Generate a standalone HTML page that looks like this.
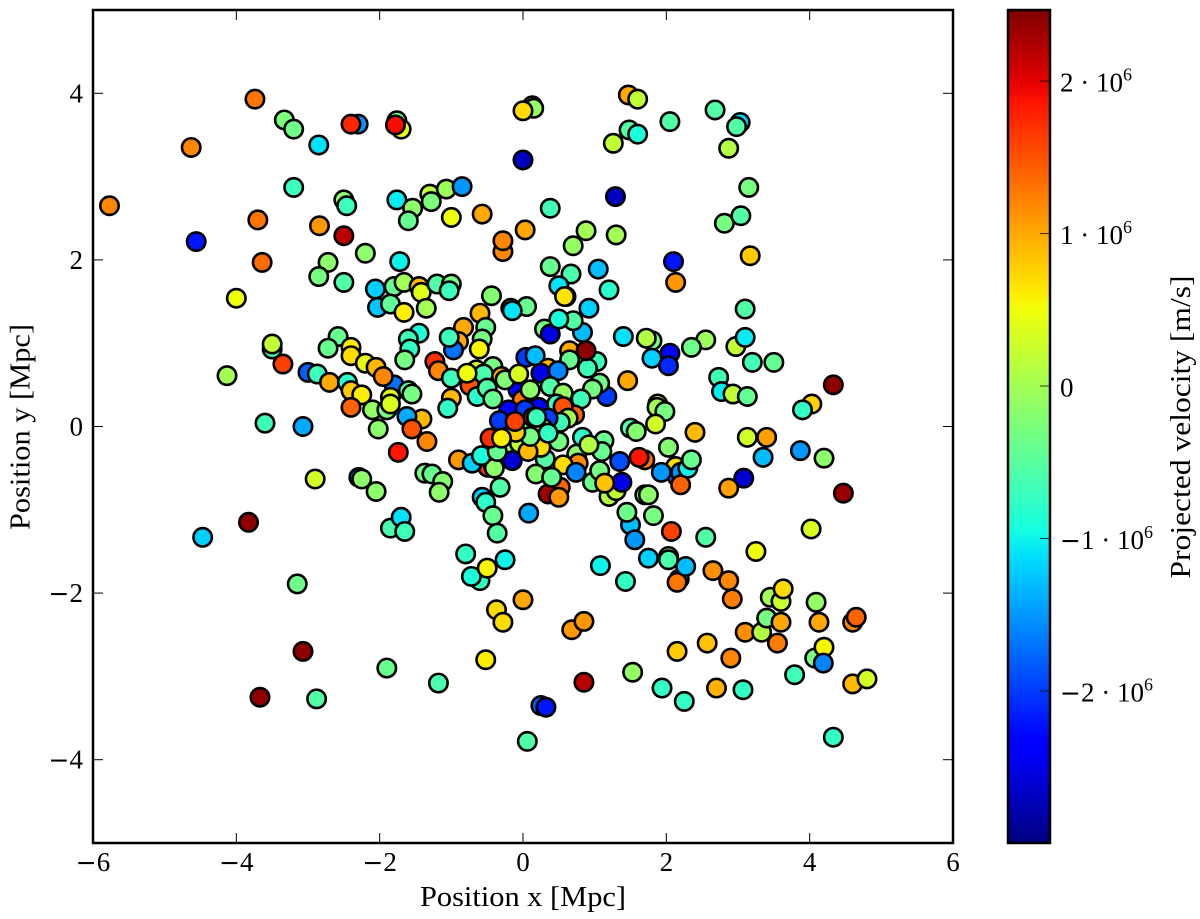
<!DOCTYPE html>
<html>
<head>
<meta charset="utf-8">
<title>Projected velocity scatter</title>
<style>
html,body{margin:0;padding:0;background:#fff;}
svg{display:block;}
text{font-family:"Liberation Serif","DejaVu Serif",serif;fill:#000;}
</style>
</head>
<body>
<svg id="chart" xmlns="http://www.w3.org/2000/svg" width="1200" height="919" viewBox="0 0 1200 919">
  <defs>
    <linearGradient id="jet-gradient" x1="0" y1="1" x2="0" y2="0"></linearGradient>
    <clipPath id="plot-clip"><rect x="93" y="10" width="860" height="833"></rect></clipPath>
  </defs>
  <rect x="93" y="10" width="860" height="833" fill="#fff"></rect>
  <g id="points" clip-path="url(#plot-clip)"></g>
  <rect x="93" y="10" width="860" height="833" fill="none" stroke="#000" stroke-width="2.5"></rect>
  <g id="x-ticks"></g>
  <g id="y-ticks"></g>
  <text x="523" y="906" font-size="28" text-anchor="middle" textLength="206" lengthAdjust="spacingAndGlyphs">Position x [Mpc]</text>
  <text transform="translate(29.5,427) rotate(-90)" font-size="29" text-anchor="middle" textLength="206" lengthAdjust="spacingAndGlyphs">Position y [Mpc]</text>
  <rect x="1008" y="10" width="42" height="833" fill="url(#jet-gradient)" stroke="#000" stroke-width="2.5"></rect>
  <g id="cb-ticks"></g>
  <text transform="translate(1190,427) rotate(-90)" font-size="29" text-anchor="middle" textLength="303" lengthAdjust="spacingAndGlyphs">Projected velocity [m/s]</text>
</svg>
<script>
// Position x in Mpc
const positionX = [
-5.77,-4.63,-4.56,-3.74,-3.7,-3.64,-4.0,-4.13,-3.33,-3.2,
-2.85,-2.3,-2.4,-1.76,-1.7,-1.78,-3.2,-2.5,-2.46,-2.84,
-2.5,-1.76,-1.54,-1.6,-1.3,-1.28,-1.07,-0.85,-1.0,-0.57,
-0.28,-0.28,0.03,0.38,0,0.13,0.15,0,1.47,1.6,
1.48,1.6,1.26,2.05,2.68,3.03,2.98,2.87,3.15,1.29,
1.3,0.88,0.7,2.81,3.04,3.17,2.1,2.13,1.05,1.2,
0.38,0.67,0.5,0.6,0.58,0.92,0.05,-0.17,-0.15,-0.44,
-2.72,-2.2,-2.85,-2.5,-2.06,-2.03,-1.8,-1.72,-1.85,-1.66,
-1.45,-1.42,-1.2,-1,-1.03,-1.35,-1.66,-1.45,-1.6,-1.58,
-1.65,-2.58,-2.4,-2.4,-2.72,-3.5,-3.5,-3.35,-3,-2.87,
-2.7,-2.45,-2.4,-2.25,-2.4,-2.2,-2.05,-1.8,-1.95,-2.1,
-1.9,-1.85,-1.85,-2.02,-3.6,-3.07,-1.6,-1.55,-1.41,-1.62,
-1.55,-1.34,-1.74,-1.37,-1.27,-1.12,-1.17,-2.29,-2.25,-2.05,
-2.9,-3.83,-4.47,-3.15,-1.85,-1.7,-1.65,-3.07,-3.67,-2.88,
-1.9,-1.18,-0.52,0.06,0.25,0.32,0.85,1.53,1.94,2.25,
2.7,3.07,2.9,2.15,2.57,3.1,3.33,3.55,3.4,3.6,
3.45,3.6,3.63,4.09,4.13,4.6,4.65,4.07,4.2,4.19,
3.79,4.6,4.8,4.33,3.25,4.02,2.55,2.65,2.87,2.92,
-0.37,-0.28,0,0.68,0.85,-0.8,-0.6,-0.72,-0.25,-0.5,
1.08,1.43,1.5,1.56,1.75,2.03,2.03,2.18,2.15,2.27,
2.07,1.82,1.45,1.7,1.75,2.13,2.15,2.2,2.2,2.3,
2.35,2.4,2.03,3.13,3.4,3.35,3.87,4.2,4.47,3.08,
2.87,1.93,4.33,4.03,3.9,2.73,2.77,2.93,3.13,3.2,
3.5,2.97,3.1,3.1,2.55,2.35,1.8,1.72,1.8,2.05,
2.03,1.4,1.46,1.88,1.87,1.98,1.85,1.5,1.58,1.17,
1.03,0.9,1.07,0.97,0.81,0.83,0.7,0.3,0.38,0.5,
0.65,0.88,0.65,0.04,0.17,0.35,0.25,0.49,0.38,0.56,
0.47,0.72,0.56,0.63,0.52,0.5,0.75,0.77,0.56,0.74,
0.83,1.13,1.1,0.92,0.97,1.07,1.2,1.3,1.38,1.14,
1.35,1.7,1.62,0.52,0.35,0.5,0.08,0.31,0.18,0.4,
-0.32,-0.57,-0.52,-0.42,-0.36,-0.9,-0.49,-0.42,-0.4,-0.71,
-0.58,-0.6,-0.52,-0.83,-0.9,-0.97,-1.03,-0.57,-0.61,-1.23,
-1.18,-1,-0.42,-0.65,-0.74,-0.55,-0.78,-1,-1.05,-0.64,
-0.3,-0.5,-0.07,-0.01,-0.42,-0.25,-0.06,0.1,0.22,-0.2,
0.05,0.35,0.28,0,-0.15,-0.05,0.25,-0.15,0.07,-0.36,
0.03,-0.33,0.14,0.19,0.1,-0.46,-0.1,-0.11,-0.3,0.35
];
// Position y in Mpc
const positionY = [
2.65,3.35,2.22,3.93,2.48,1.97,1.54,0.61,3.68,3.57,
3.38,3.63,3.63,3.67,3.57,3.62,2.87,2.72,2.65,2.41,
2.29,2.72,2.62,2.47,2.79,2.7,2.85,2.88,2.51,2.55,
2.1,2.23,2.36,2.62,3.2,3.85,3.82,3.79,3.98,3.93,
3.56,3.51,3.4,3.66,3.8,3.65,3.6,3.34,2.87,2.76,
2.3,2.35,2.17,2.44,2.53,2.05,1.98,1.73,1.89,1.64,
1.92,1.83,1.69,1.56,1.56,1.42,1.44,1.42,1.39,1.57,
1.97,2.08,1.8,1.73,1.65,1.43,1.68,1.98,1.47,1.73,
1.68,1.61,1.71,1.71,1.63,1.42,1.37,1.12,1.05,0.93,
0.8,1.08,0.95,0.85,0.94,0.93,0.99,0.75,0.65,0.63,
0.53,0.53,0.43,0.38,0.23,0.76,0.71,0.5,0.6,0.2,
0.2,0.35,0.27,-0.03,0.04,0,0.43,0.39,0.09,0.12,
-0.03,-0.18,-0.31,-0.56,-0.57,-0.66,-0.79,-0.61,-0.63,-0.78,
-0.63,-1.15,-1.33,-1.89,-1.22,-1.09,-1.26,-2.7,-3.25,-3.27,
-2.9,-3.08,-2.8,-3.78,-3.35,-3.37,-3.07,-2.95,-3.14,-3.3,
-3.14,-3.16,-2.78,-2.7,-2.6,-2.47,-2.47,-2.6,-2.3,-2.35,
-2.05,-2.1,-1.95,-2.11,-2.35,-2.35,-2.29,-2.78,-2.65,-2.84,
-2.98,-3.09,-3.03,-3.73,-1.5,-1.23,-1.33,-1.73,-1.85,-2.07,
-2.2,-2.35,-2.08,-2.44,-2.34,-1.53,-1.85,-1.8,-1.6,-1.7,
-1.67,-1.86,-1.18,-1.36,-1.58,-1.56,-1.6,-1.83,-1.87,-1.68,
-1.26,-1.07,-1.03,-0.82,-0.82,-0.48,-0.6,-0.55,-0.7,-0.5,
-0.4,-0.07,-0.25,-0.13,-0.13,-0.37,-0.29,-0.38,-0.8,-0.62,
-0.74,-0.55,0.5,0.27,0.2,0.59,0.42,0.39,0.36,0.77,
0.77,0.96,1.07,1.41,1.04,0.95,1.03,1.06,0.82,0.88,
0.73,1.08,0.55,0.27,0.23,0.18,0.03,-0.02,-0.06,0.36,
0.78,0.7,0.52,0.45,0.33,1.13,1.27,1.17,1.11,1.29,
0.91,0.91,0.8,0.83,0.85,0.7,0.64,0.67,0.48,0.4,
0.27,0.14,0.24,0.1,0.05,-0.18,-0.33,-0.44,-0.46,-0.55,
-0.13,-0.17,-0.3,-0.22,-0.67,-0.53,-0.84,-0.77,-0.67,-0.68,
-0.42,-0.4,-0.37,-0.73,-0.81,-0.85,-1.04,-0.39,-0.57,-0.61,
-0.73,-0.85,-0.91,-1.07,-1.28,-0.4,-0.49,-0.45,-0.5,-0.44,
-0.35,1.36,1.19,1.19,1.02,0.92,1.07,1.05,0.93,0.78,
0.67,0.58,0.72,0.68,0.49,0.63,0.64,0.34,0.22,0.36,
0.6,0.46,0.44,0.32,0.33,0.56,0.63,0.44,0.23,0.2,
0,0.1,-0.02,0.05,-0.3,-0.2,-0.25,-0.41,-0.3,-0.3,
0.2,0.07,0.11,0.11,-0.12,-0.14,-0.07,0.06,-0.14,-0.08
];
// Projected velocity in units of 10^6 m/s
const velocity = [
1.2,1.2,-2.2,1.3,1.3,1.35,0.5,0,-0.27,-0.35,
-1.1,-1.5,1.75,-0.35,0.45,1.9,-0.7,-0.15,-0.7,1.1,
2.2,-1.05,-0.15,-0.4,0.2,-0.27,-0.05,-1.5,0.5,1,
1.2,1.2,1,-0.65,-2.7,0.3,-0.1,0.7,1,0.2,
-0.55,-0.9,0.2,-0.55,-0.55,-1.2,-0.55,0.1,-0.3,-2.7,
0,0,-0.1,-0.3,-0.55,0.8,-2.2,1.1,-1.3,-0.8,
-0.4,-0.6,-1.1,0.3,0.65,-1.2,-0.4,-0.3,-1.1,-0.2,
-0.15,-0.15,-0.3,-0.55,-1.2,-1.25,-0.4,-1,-0.45,0,
0.9,0.4,-0.55,-0.3,-0.68,0,0.6,-0.9,-0.68,-0.75,
-0.3,-0.4,0.6,0.7,-0.4,-0.55,0.2,1.6,-1.8,-0.68,
1,-0.8,0.8,0.6,1.4,0.45,0.9,-1.7,1.2,-0.1,
-0.3,0.4,0.35,-0.15,-0.68,-1.4,-0.4,-0.3,0.9,-1.4,
1.5,1.2,1.85,-0.3,-0.4,-0.2,-0.15,-1.7,-0.15,-0.15,
0.3,2.4,-1.2,-0.35,-0.6,-1.1,-0.68,2.4,2.4,-0.55,
-0.4,-0.6,0.6,-0.55,-1.8,-2.2,2.2,-0.1,-0.75,-0.75,
0.95,-0.75,1.2,0.8,0.85,1.15,0.1,1.25,-0.3,1,
0,0.25,0.7,-0.1,1,1.2,1.4,-0.3,0.55,-1.6,
-0.68,0.9,0.3,-0.75,0.5,0.35,-0.55,1.15,1.2,1.25,
0.7,0.7,1,1.1,1.1,-0.75,-0.75,-0.9,-1,0.55,
-1,-0.75,-1.3,-1.5,-1.2,-0.15,-0.6,-1.2,1.3,-1.3,
1.6,-0.3,-0.35,-0.3,-0.15,0.7,-1.8,-1.5,1.4,-1,
-0.4,0.9,-0.2,0.3,1.05,-1.3,-1.5,-0.15,2.35,-2.6,
1.05,-1.5,2.4,0.75,-0.75,-0.65,-1.05,0.2,-0.42,-0.65,
-0.42,0.2,-1.05,-0.55,-0.05,-0.35,-0.3,0.1,-1.2,-2.3,
-2.1,-1.1,1,0.3,0,-0.3,0.3,-0.55,-0.2,-2,
-0.68,-0.68,-0.35,-0.3,-0.68,-1.3,-0.55,-0.3,-2.5,-0.9,
1,2.4,-0.4,-2,-1.3,0.9,-2.5,-1.6,-0.55,-0.1,
-0.68,1.4,1.5,0,-0.68,-0.3,-0.15,1.2,0.7,-1.6,
-0.8,-0.4,-0.4,0.1,-0.4,-0.3,0.1,0.2,-2.5,0.85,
-1.9,1.3,1.85,1.4,2.3,1.1,-1.4,-0.55,-0.2,-0.4,
-0.55,-1.2,-0.8,-0.4,-0.55,1.1,1.7,-1.6,-0.15,-1.2,
-0.9,0.9,-0.4,1,1,-1.7,-0.68,-0.3,0.55,1.7,
1.2,-0.68,-0.3,0.3,1.5,-0.6,0.5,0.9,-0.75,-0.8,
1,-0.55,-2.3,1.3,-0.4,-0.2,0.35,-0.15,-2.4,-2.3,
-1,-2,0.2,-0.55,0,0.2,0.7,-2.6,0.9,-0.4,
-2,-2,2,-0.68,-0.3,1.7,0.8,1.6,0.6,-0.75
];
const xTicks = [-6,-4,-2,0,2,4,6];
const xTickLabels = ["\u22126","\u22124","\u22122","0","2","4","6"];
const yTicks = [-4,-2,0,2,4];
const yTickLabels = ["\u22124","\u22122","0","2","4"];
const cbTicks = [-2,-1,0,1,2];
const cbTickLabels = ["\u22122","\u22121","0","1","2"];

const SVG_NS = "http://www.w3.org/2000/svg";
const PLOT = {left:93, right:953, top:10, bottom:843};
const xDomain = [-6,6], yDomain = [-5,5], vDomain = [-2.997,2.466];

function sx(v){ return PLOT.left + (v-xDomain[0])/(xDomain[1]-xDomain[0])*(PLOT.right-PLOT.left); }
function sy(v){ return PLOT.bottom - (v-yDomain[0])/(yDomain[1]-yDomain[0])*(PLOT.bottom-PLOT.top); }
function sv(v){ return PLOT.bottom - (v-vDomain[0])/(vDomain[1]-vDomain[0])*(PLOT.bottom-PLOT.top); }

function lerp(t, knots){
  for(let i=1;i<knots.length;i++){
    if(t<=knots[i][0]){
      const a=knots[i-1], b=knots[i];
      return a[1]+(b[1]-a[1])*(t-a[0])/(b[0]-a[0]);
    }
  }
  return knots[knots.length-1][1];
}
const jetR=[[0,0],[0.35,0],[0.66,1],[0.89,1],[1,0.5]];
const jetG=[[0,0],[0.125,0],[0.375,1],[0.64,1],[0.91,0],[1,0]];
const jetB=[[0,0.5],[0.11,1],[0.34,1],[0.65,0],[1,0]];
function jet(t){
  t=Math.max(0,Math.min(1,t));
  return "rgb("+Math.round(lerp(t,jetR)*255)+","+Math.round(lerp(t,jetG)*255)+","+Math.round(lerp(t,jetB)*255)+")";
}
function colorOf(v){ return jet((v-vDomain[0])/(vDomain[1]-vDomain[0])); }

function make(tag, attrs, parent){
  const el=document.createElementNS(SVG_NS,tag);
  for(const k in attrs) el.setAttribute(k,attrs[k]);
  parent.appendChild(el);
  return el;
}
// Writes a label, drawing a leading minus sign wider to match the math-font minus.
function writeLabel(el, str){
  if(str.charAt(0)==="\u2212"){
    const m=make("tspan",{"font-family":"DejaVu Sans","font-size":25},el);
    m.textContent="\u2212";
    el.appendChild(document.createTextNode(str.slice(1)));
  }else{
    el.textContent=str;
  }
}

// Colorbar gradient
const grad=document.getElementById("jet-gradient");
for(let i=0;i<=64;i++){
  make("stop",{offset:(i/64),"stop-color":jet(i/64)},grad);
}

// Points
const pointsGroup=document.getElementById("points");
positionX.forEach(function(x,i){
  const c=make("circle",{cx:sx(x),cy:sy(positionY[i]),r:9.2,fill:colorOf(velocity[i]),stroke:"#000","stroke-width":2.6},pointsGroup);
  
  
});

// X ticks
const xg=document.getElementById("x-ticks");
xTicks.forEach(function(t,i){
  const x=sx(t);
  const a=make("line",{x1:x,x2:x,y1:PLOT.bottom,y2:PLOT.bottom-10,stroke:"#000","stroke-width":1},xg);
  
  
  const b=make("line",{x1:x,x2:x,y1:PLOT.top,y2:PLOT.top+10,stroke:"#000","stroke-width":1},xg);
  
  
  const l=make("text",{x:x,y:871,"font-size":27,"text-anchor":"middle"},xg);
  
  
  writeLabel(l,xTickLabels[i]);
});

// Y ticks
const yg=document.getElementById("y-ticks");
yTicks.forEach(function(t,i){
  const y=sy(t);
  const a=make("line",{x1:PLOT.left,x2:PLOT.left+10,y1:y,y2:y,stroke:"#000","stroke-width":1},yg);
  
  
  const b=make("line",{x1:PLOT.right,x2:PLOT.right-10,y1:y,y2:y,stroke:"#000","stroke-width":1},yg);
  
  
  const l=make("text",{x:83,y:y+9,"font-size":27,"text-anchor":"end"},yg);
  
  
  writeLabel(l,yTickLabels[i]);
});

// Colorbar ticks
const cg=document.getElementById("cb-ticks");
cbTicks.forEach(function(t,i){
  const y=sv(t);
  const a=make("line",{x1:1040,x2:1050,y1:y,y2:y,stroke:"#000","stroke-width":1,"stroke-opacity":0.75},cg);
  
  
  const l=make("text",{x:1060,y:y+10.5,"font-size":27},cg);
  
  
  if(t===0){
    writeLabel(l,cbTickLabels[i]);
  }else{
    writeLabel(l,cbTickLabels[i]+" \u00b7 10");
    const s=make("tspan",{dy:-11,"font-size":18},l);
    s.textContent="6";
  }
});
</script>
</body>
</html>
